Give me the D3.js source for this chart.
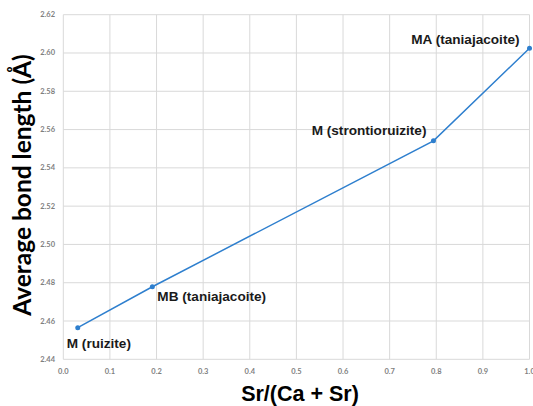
<!DOCTYPE html>
<html><head><meta charset="utf-8">
<script src="https://cdn.jsdelivr.net/npm/d3@7"></script>
<style>body{margin:0;background:#fff}</style>
</head><body>
<svg id="c" width="533" height="406"></svg>
<script>
const xValues = [0.031, 0.191, 0.794, 1.0];
const yValues = [2.4565, 2.4779, 2.5541, 2.6025];
const pointLabels = ["M (ruizite)", "MB (taniajacoite)", "M (strontioruizite)", "MA (taniajacoite)"];
const xTicks = [0,0.1,0.2,0.3,0.4,0.5,0.6,0.7,0.8,0.9,1.0];
const yTicks = [2.44,2.46,2.48,2.50,2.52,2.54,2.56,2.58,2.60,2.62];

const svg = d3.select("#c");
const x = d3.scaleLinear().domain([0,1]).range([63.3,529.5]);
const y = d3.scaleLinear().domain([2.44,2.62]).range([359.3,14.7]);
const grid = "#d9d9d9";

svg.append("g").selectAll("line").data(xTicks).join("line")
  .attr("x1",d=>x(d)).attr("x2",d=>x(d)).attr("y1",y(2.62)).attr("y2",y(2.44))
  .attr("stroke",grid).attr("stroke-width",1);
svg.append("g").selectAll("line").data(yTicks).join("line")
  .attr("x1",x(0)).attr("x2",x(1)).attr("y1",d=>y(d)).attr("y2",d=>y(d))
  .attr("stroke",grid).attr("stroke-width",1);

const tickFont = "Lato, 'Open Sans', sans-serif";
svg.append("g").selectAll("text").data(xTicks).join("text")
  .attr("x",d=>x(d)).attr("y",374).attr("text-anchor","middle")
  .attr("font-family",tickFont).attr("font-size",7.5).attr("font-weight","bold").attr("fill","#7f7f7f")
  .text(d=>d.toFixed(1));
svg.append("g").selectAll("text").data(yTicks).join("text")
  .attr("x",55).attr("y",d=>y(d)+2.5).attr("text-anchor","end")
  .attr("font-family",tickFont).attr("font-size",7.5).attr("font-weight","bold").attr("fill","#7f7f7f")
  .text(d=>d.toFixed(2));

const pts = xValues.map((v,i)=>[v,yValues[i]]);
svg.append("path").datum(pts)
  .attr("d", d3.line().x(d=>x(d[0])).y(d=>y(d[1])))
  .attr("fill","none").attr("stroke","#2e7fce").attr("stroke-width",1.5);
svg.append("g").selectAll("circle").data(pts).join("circle")
  .attr("cx",d=>x(d[0])).attr("cy",d=>y(d[1])).attr("r",2.5).attr("fill","#2e7fce");

const lab = [
  {dx:-11, dy:20, anchor:"start"},
  {dx:5, dy:14, anchor:"start"},
  {dx:-7, dy:-6, anchor:"end"},
  {dx:-10, dy:-4, anchor:"end"}
];
svg.append("g").selectAll("text").data(pts).join("text")
  .attr("x",(d,i)=>x(d[0])+lab[i].dx).attr("y",(d,i)=>y(d[1])+lab[i].dy)
  .attr("text-anchor",(d,i)=>lab[i].anchor)
  .attr("font-family","'Liberation Sans', Arial, sans-serif").attr("font-size",13.6).attr("font-weight","bold").attr("fill","#1a1a1a")
  .text((d,i)=>pointLabels[i]);

svg.append("text").attr("x",300).attr("y",401).attr("text-anchor","middle")
  .attr("font-family","'Liberation Sans', Arial, sans-serif").attr("font-size",21.5).attr("font-weight","bold")
  .text("Sr/(Ca + Sr)");
svg.append("text").attr("transform","translate(31,185) rotate(-90)").attr("text-anchor","middle")
  .attr("font-family","Lato, 'Open Sans', sans-serif").attr("font-size",24.5).attr("font-weight","bold")
  .text("Average bond length (Å)");
</script>
</body></html>
